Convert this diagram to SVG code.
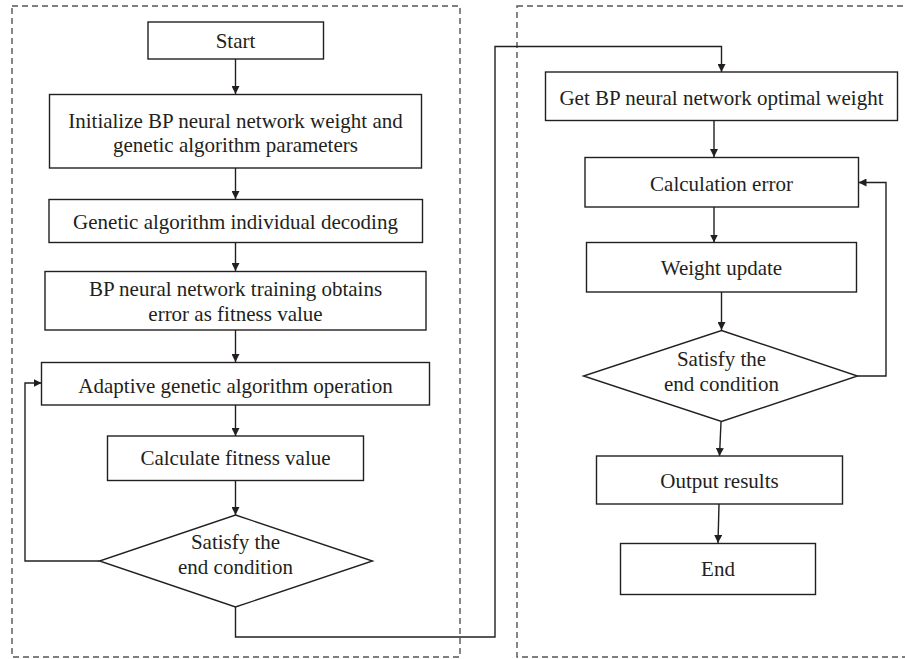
<svg xmlns="http://www.w3.org/2000/svg" width="905" height="659" viewBox="0 0 905 659">
<defs>
<marker id="ah" viewBox="0 0 10 10" refX="10" refY="5" markerWidth="8" markerHeight="8" markerUnits="userSpaceOnUse" orient="auto">
<path d="M0,0 L10,5 L0,10 z" fill="#231f20"/>
</marker>
<style>
.box{fill:#fff;stroke:#231f20;stroke-width:1.4}
.dash{fill:none;stroke:#555;stroke-width:1.4;stroke-dasharray:6 4}
.c{fill:none;stroke:#231f20;stroke-width:1.4}
.t{font-family:"Liberation Serif","Times New Roman",serif;font-size:21px;fill:#231f20;text-anchor:middle}
</style>
</defs>
<rect width="905" height="659" fill="#fff"/>
<g id="panels">
<rect class="dash" x="12" y="6" width="448" height="651"/>
<rect class="dash" x="517" y="6" width="400" height="651"/>
</g>
<g id="connectors">
<path class="c" d="M235.5,59 V94" marker-end="url(#ah)"/>
<path class="c" d="M235.5,168 V199" marker-end="url(#ah)"/>
<path class="c" d="M235.5,242.5 V271" marker-end="url(#ah)"/>
<path class="c" d="M235.5,330 V362" marker-end="url(#ah)"/>
<path class="c" d="M235.5,405 V436" marker-end="url(#ah)"/>
<path class="c" d="M235.5,480.5 V515" marker-end="url(#ah)"/>
<path class="c" d="M99.5,561 H25 V383 H41.5" marker-end="url(#ah)"/>
<path class="c" d="M235.5,607 V637 H495 V46.5 H721.5 V72" marker-end="url(#ah)"/>
<path class="c" d="M714,120.5 V157" marker-end="url(#ah)"/>
<path class="c" d="M714,207 V242.5" marker-end="url(#ah)"/>
<path class="c" d="M721.5,292 V330" marker-end="url(#ah)"/>
<path class="c" d="M857.5,376 H886 V182.5 H858.5" marker-end="url(#ah)"/>
<path class="c" d="M721,422 L719.5,456" marker-end="url(#ah)"/>
<path class="c" d="M719,504 L718,543" marker-end="url(#ah)"/>
</g>
<g id="start"><rect class="box" x="148" y="22" width="175.5" height="37"/><text class="t" x="235.5" y="48">Start</text></g>
<g id="init"><rect class="box" x="49.5" y="94.5" width="372" height="73.5"/><text class="t" x="235.5" y="127.5">Initialize BP neural network weight and</text><text class="t" x="235.5" y="152">genetic algorithm parameters</text></g>
<g id="decode"><rect class="box" x="49" y="199.5" width="373.5" height="43"/><text class="t" x="235.5" y="229">Genetic algorithm individual decoding</text></g>
<g id="train"><rect class="box" x="45" y="271.5" width="381" height="58.5"/><text class="t" x="235.5" y="296">BP neural network training obtains</text><text class="t" x="235.5" y="321">error as fitness value</text></g>
<g id="adaptive"><rect class="box" x="41.5" y="362.5" width="388" height="42.5"/><text class="t" x="235.5" y="392.5">Adaptive genetic algorithm operation</text></g>
<g id="calcfit"><rect class="box" x="107.5" y="436" width="256" height="44.5"/><text class="t" x="235.5" y="465">Calculate fitness value</text></g>
<g id="cond1"><path class="box" d="M235.5,515 L372.5,561 L235.5,607 L99.5,561 Z"/><text class="t" x="235.5" y="549">Satisfy the</text><text class="t" x="235.5" y="574">end condition</text></g>
<g id="getbp"><rect class="box" x="545.5" y="72" width="352" height="48.5"/><text class="t" x="721.5" y="104.5">Get BP neural network optimal weight</text></g>
<g id="calcerr"><rect class="box" x="585" y="157.5" width="273.5" height="49.5"/><text class="t" x="721.5" y="190.5">Calculation error</text></g>
<g id="wupdate"><rect class="box" x="586.5" y="242.5" width="270" height="49.5"/><text class="t" x="721.5" y="275">Weight update</text></g>
<g id="cond2"><path class="box" d="M721.5,330.5 L857.5,376 L721.5,421.5 L583.5,376 Z"/><text class="t" x="721.5" y="365.5">Satisfy the</text><text class="t" x="721.5" y="390.5">end condition</text></g>
<g id="output"><rect class="box" x="596.5" y="456" width="246" height="48"/><text class="t" x="719.5" y="487.5">Output results</text></g>
<g id="end"><rect class="box" x="620.5" y="543.5" width="195" height="51"/><text class="t" x="718" y="576">End</text></g>
</svg>
